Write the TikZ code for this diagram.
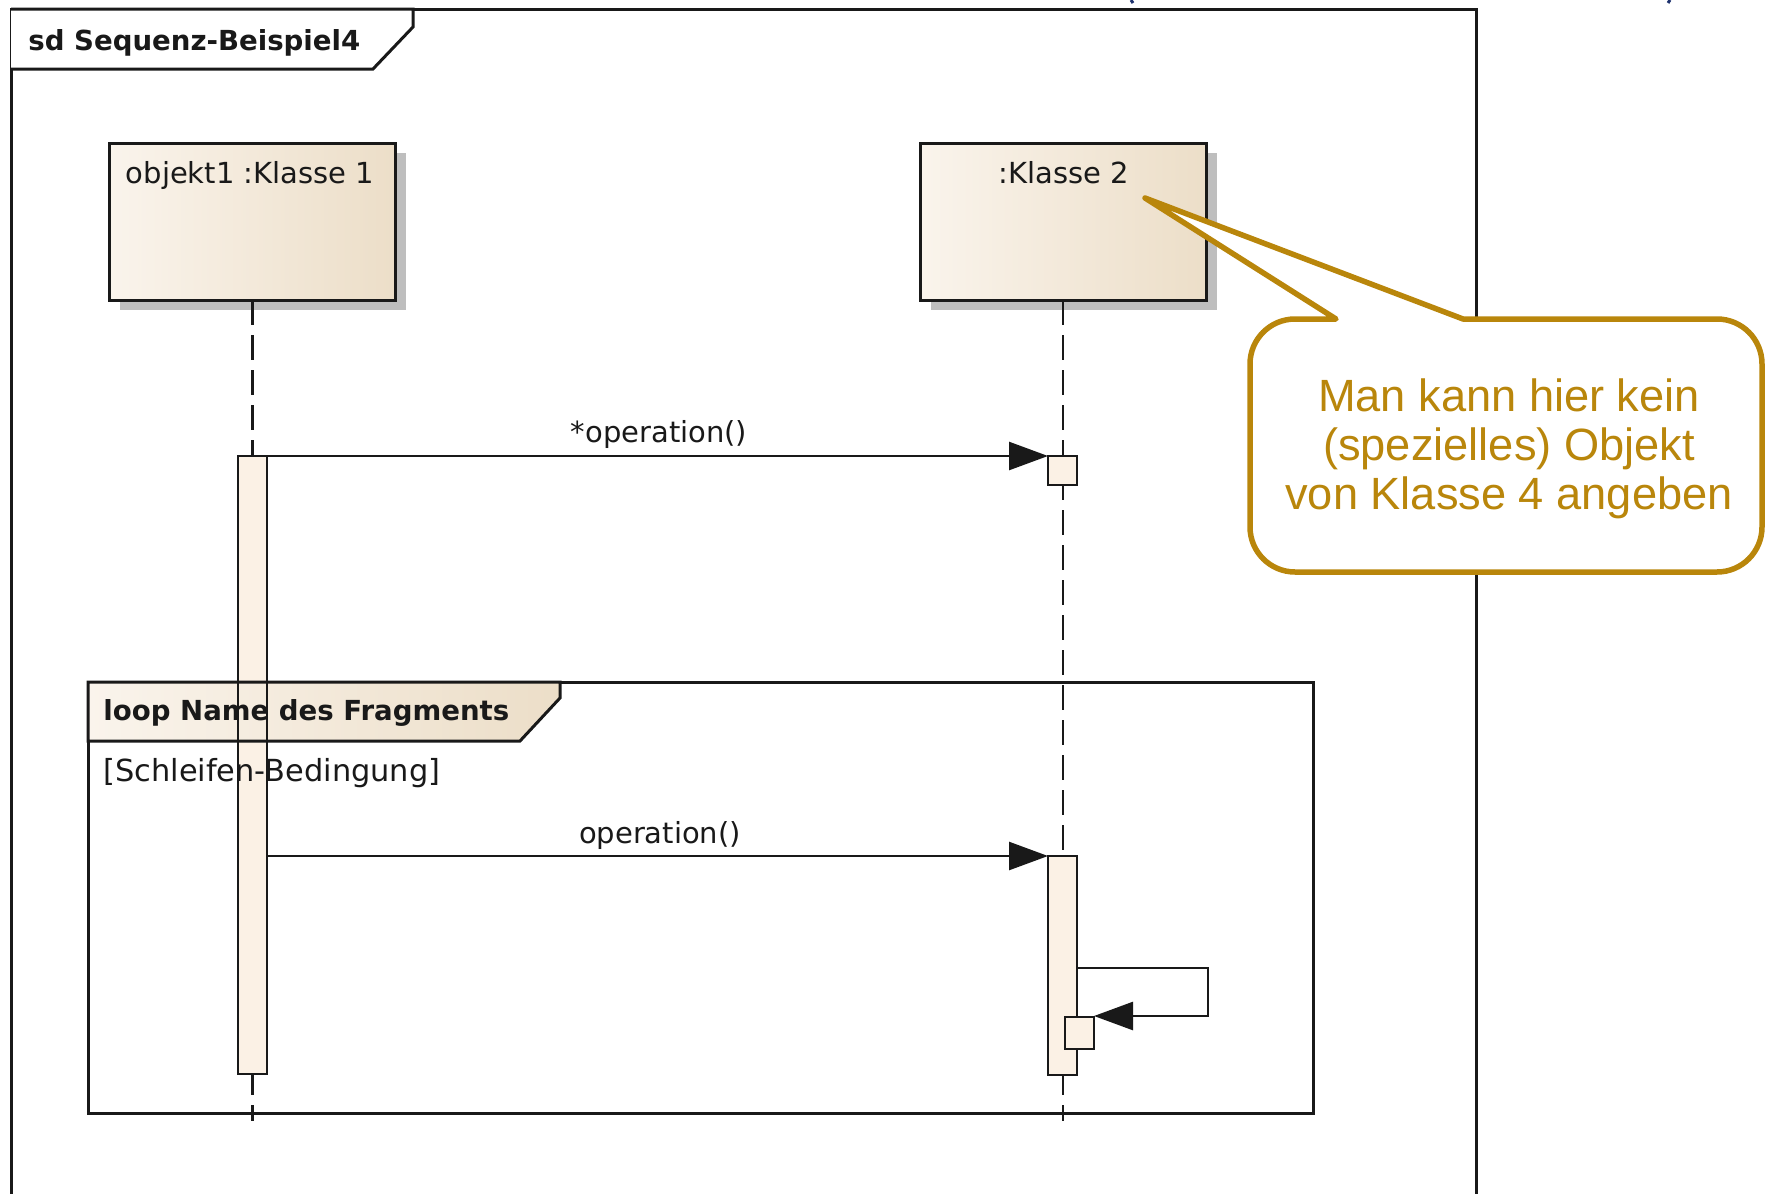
\documentclass[tikz,border=0pt]{standalone}
\usepackage{fontspec}
\setmainfont{DejaVu Sans}
\newfontfamily\notefont{Liberation Sans}
\usetikzlibrary{arrows.meta,shadows}
\definecolor{ink}{RGB}{25,25,25}
\definecolor{beigeL}{RGB}{250,244,236}
\definecolor{beigeR}{RGB}{236,222,200}
\definecolor{barfill}{RGB}{251,241,229}
\definecolor{gold}{RGB}{185,134,11}
\definecolor{navy}{RGB}{30,50,110}
\definecolor{shadowgray}{RGB}{190,190,190}
\begin{document}
\begin{tikzpicture}[x=0.5pt,y=-0.5pt,
  lbl/.style={font=\fontsize{14.5pt}{17pt}\selectfont, text=ink, inner sep=0pt},
  blbl/.style={font=\fontsize{13.8pt}{16pt}\selectfont\bfseries, text=ink, inner sep=0pt},
  objbox/.style={draw=ink, line width=1.5pt, left color=beigeL, right color=beigeR,
    minimum width=143pt, minimum height=78.5pt, inner sep=0pt, outer sep=0pt,
    general shadow={fill=shadowgray, shadow xshift=5pt, shadow yshift=-5pt}},
  bar/.style={draw=ink, line width=1.2pt, fill=barfill, inner sep=0pt, outer sep=0pt, minimum width=14.5pt},
  lifeline/.style={draw=ink, line width=1.3pt, dash pattern=on 12.5pt off 5pt},
  msg/.style={draw=ink, line width=1.3pt, -{Triangle[length=19.5pt,width=14pt]}},
  frameline/.style={draw=ink, line width=1.5pt},
  notebox/.style={draw=gold, line width=2.75pt, fill=white, line join=round},
]
\useasboundingbox (0,0) rectangle (1767,1194);

% outer frame
\draw[frameline] (11,1200) -- (11,9) -- (1476,9) -- (1476,1200);
\draw[frameline, fill=white] (11,9) -- (413,9) -- (413,27) -- (373,69) -- (11,69);

% small cut-off marks at the top
\draw[navy, line width=1.5pt] (1131,0) -- (1133,3);
\draw[navy, line width=1.5pt] (1670,0) -- (1668,3);

% objects
\node[objbox] (o1) at (252.5,221.5) {};
\node[objbox] (o2) at (1063.5,221.5) {};

% lifelines
\coordinate (l1end) at (252.5,1121);
\coordinate (l2end) at (1063,1121);
\draw[lifeline] (o1.south) -- (l1end);
\draw[lifeline] (o2.south -| l2end) -- (l2end);

% activation bars
\node[bar, minimum height=309pt] (a1) at (252.5,765) {};
\node[bar, minimum height=14.5pt] (a2) at (1062.5,470.5) {};
\node[bar, minimum height=109.5pt] (a3) at (1062.5,965.5) {};

% loop fragment
\node[frameline, minimum width=612.5pt, minimum height=215.5pt, inner sep=0pt, outer sep=0pt] (frag) at (700.5,897.5) {};
\draw[frameline, left color=beigeL, right color=beigeR] (88,682) -- (560,682) -- (560,698) -- (520,741) -- (88,741) -- cycle;
\draw[ink, line width=1.2pt] (a1.north west) rectangle (a1.south east);
\node[bar, minimum height=16pt] (a4) at (1079.5,1033) {};

% messages
\draw[msg] (a1.north east) -- (a2.north west);
\draw[msg] (a1.east |- a3.north) -- (a3.north west);
\coordinate (s1) at (1208,968);
\coordinate (s2) at (1208,1016);
\draw[msg] (a3.east |- s1) -- (s1) -- (s2) -- (s2 -| a4.east);

% texts
\node[blbl, anchor=base west] (sdlbl) at (28,50) {sd Sequenz-Beispiel4};
\node[lbl, anchor=base] (o1lbl) at (250,183) {objekt1 :Klasse 1};
\node[lbl, anchor=base] (o2lbl) at (1064,183) {:Klasse 2};
\node[blbl, anchor=base west] (looplbl) at (103,720) {loop Name des Fragments};
\node[lbl, font=\fontsize{15.2pt}{17pt}\selectfont, anchor=base west] (cond) at (103,781) {[Schleifen-Bedingung]};
\node[lbl, anchor=base] (m1lbl) at (659,442) {*operation()};
\node[lbl, anchor=base] (m2lbl) at (660,843) {operation()};

% callout
\draw[notebox] (1336,319) -- (1145,198) -- (1463,319) -- (1717,319)
  arc[start angle=-90, end angle=0, radius=45] -- (1762,527)
  arc[start angle=0, end angle=90, radius=45] -- (1295,572)
  arc[start angle=90, end angle=180, radius=45] -- (1250,364)
  arc[start angle=180, end angle=270, radius=45] -- cycle;
\node[font=\notefont\fontsize{22.6pt}{24.5pt}\selectfont, text=gold, align=center, inner sep=0pt] (notetxt) at (1509,449)
  {Man kann hier kein\\(spezielles) Objekt\\von Klasse 4 angeben};
\end{tikzpicture}
\end{document}
